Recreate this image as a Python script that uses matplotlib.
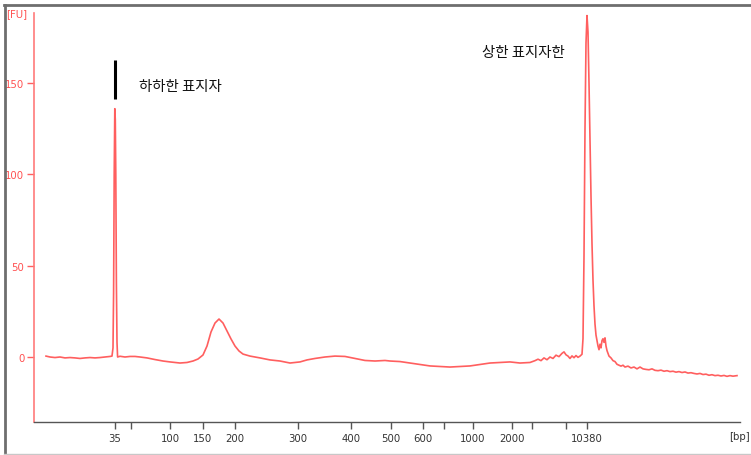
import matplotlib
matplotlib.use("Agg")
import matplotlib.pyplot as plt
from matplotlib.lines import Line2D

# Electropherogram trace: migration position vs fluorescence (FU)
pos = [46, 50, 55, 60, 65, 70, 75, 80, 85, 90, 95, 100, 105, 110, 112,
       113, 113.6, 114.2, 114.8, 115.3, 115.8, 116.4, 117.0, 117.6,
       120, 125, 130, 135, 140, 147, 155, 163, 170, 180, 187, 193, 198,
       203, 207, 211, 215, 219, 223, 227, 231, 235, 239, 243, 250, 260,
       270, 280, 290, 300, 307, 315, 325, 335, 345, 355, 365, 375, 385,
       390, 400, 410, 420, 430, 440, 450, 460, 470, 480, 490, 500, 510,
       520, 530, 535, 538, 541, 544, 547, 550, 553, 556, 559, 562, 564,
       566, 568, 570, 572, 574, 576, 578, 580, 582,
       583, 584, 585, 586, 587, 588, 589, 590, 591, 592, 593, 594, 595,
       596, 597, 598, 599, 600, 601, 602, 603, 604, 605, 606, 607, 608,
       609, 611, 613, 615, 617, 619, 621, 623, 625, 628, 631, 634, 637,
       640, 643, 646, 649, 652, 655, 658, 661, 664, 667, 670, 673, 676,
       679, 682, 685, 688, 691, 694, 697, 700, 703, 706, 709, 712, 715,
       718, 721, 724, 727, 730, 733, 737]
fu = [0.5, 0.0, -0.3, 0.0, -0.5, -0.3, -0.5, -0.8, -0.5, -0.3, -0.5, -0.3, 0.0, 0.3, 0.5,
      5, 35, 100, 136, 130, 100, 40, 8, 0,
      0.4, 0.0, 0.3, 0.3, 0.0, -0.5, -1.4, -2.2, -2.7, -3.3, -3.0, -2.2, -1.1,
      1.1, 6.0, 13.7, 18.6, 20.8, 18.6, 14.2, 9.9, 6.0, 3.3, 1.6, 0.5, -0.5,
      -1.6, -2.2, -3.3, -2.7, -1.6, -0.8, 0.0, 0.5, 0.3, -0.8, -1.9, -2.2, -1.9,
      -2.2, -2.5, -3.3, -4.1, -4.9, -5.2, -5.5, -5.2, -4.9, -4.1, -3.3, -3.0, -2.7,
      -3.3, -3.0, -2.0, -1.2, -2.0, -0.5, -1.5, 0.0, -0.8, 1.0, 0.2, 2.0, 2.8,
      1.2, 0.5, -0.8, 0.6, -0.4, 0.8, -0.2, 0.5, 1.5,
      10, 55, 125, 172, 187, 178, 150, 118, 88, 62, 42, 28, 18,
      12, 9, 6, 4, 7, 5, 9, 10, 8, 10.5, 6, 3.5, 2,
      0.5, -0.5, -2, -2.5, -4, -4.5, -5, -4.5, -5.5, -5, -6, -5.5, -6.5,
      -5.5, -6.5, -6.8, -7, -6.5, -7.3, -7.5, -7.2, -7.8, -7.5, -8, -7.8, -8.3,
      -8, -8.5, -8.2, -8.8, -8.6, -9, -9.3, -9, -9.6, -9.4, -10, -9.7, -10.2,
      -10, -10.4, -10.1, -10.6, -10.2, -10.5, -10.2]

# Size ladder ticks along the migration axis (blank = unlabeled tick)
tick_pos = [81, 97, 136, 169, 201, 264, 317, 357, 389, 410, 439, 478, 498, 532, 553]
tick_labels = ["35", "", "100", "150", "200", "300", "400", "500", "600", "",
               "1000", "2000", "", "", "10380"]
fu_ticks = [0, 50, 100, 150]

lower_marker_pos = 81
lower_label = "하하한 표지자"
upper_label = "상한 표지자한"

W, H = 751, 456
fig = plt.figure(figsize=(W / 100, H / 100), dpi=100)
fig.patch.set_facecolor("white")

# outer frame
fig.add_artist(Line2D([4.5 / W, 4.5 / W], [0, 1 - 6 / H], transform=fig.transFigure,
                      color="#6e6e6e", lw=2.0))
fig.add_artist(Line2D([4 / W, 1], [1 - 6 / H, 1 - 6 / H], transform=fig.transFigure,
                      color="#6e6e6e", lw=2.0))
fig.add_artist(Line2D([4 / W, 1], [1 / H, 1 / H], transform=fig.transFigure,
                      color="#c8c8c8", lw=1.0))

x0, x1 = 34, 740
y_top, y_bot = 14, 423
ax = fig.add_axes([x0 / W, 1 - y_bot / H, (x1 - x0) / W, (y_bot - y_top) / H])
ax.set_xlim(x0 - 34, x1 - 34)
ax.set_ylim(-35.6, 188.4)

ax.plot([p - 34 for p in pos], fu, color="#ff4d4d", lw=1.2, alpha=0.9)

for s in ("top", "right"):
    ax.spines[s].set_visible(False)
ax.spines["left"].set_color("#ff7a7a")
ax.spines["left"].set_linewidth(1.2)
ax.spines["bottom"].set_color("#555555")
ax.spines["bottom"].set_linewidth(1.0)

ax.set_xticks(tick_pos)
ax.set_xticklabels(tick_labels)
ax.tick_params(axis="x", direction="out", length=5, width=1, colors="#555555",
               labelsize=7.3, pad=3, labelcolor="#333333")
ax.set_yticks(fu_ticks)
ax.tick_params(axis="y", direction="out", length=5, width=1, colors="#ff6060",
               labelsize=7.3, pad=2, labelcolor="#ff5050")

fig.text(6 / W, 1 - 14 / H, "[FU]", color="#ff5050", fontsize=7.3, va="center", ha="left")
fig.text(750 / W, 1 - 437 / H, "[bp]", color="#333333", fontsize=7.3, va="center", ha="right")

# marker annotations
ax.plot([lower_marker_pos, lower_marker_pos], [141.5, 162.5], color="black", lw=2.2,
        solid_capstyle="butt")
ax.text(139 - 34, 148.4, lower_label, family=["Noto Sans CJK KR", "DejaVu Sans"],
        fontsize=10.4, va="center", ha="left", color="#111111")
ax.text(482 - 34, 167.0, upper_label, family=["Noto Sans CJK KR", "DejaVu Sans"],
        fontsize=10.4, va="center", ha="left", color="#111111")

fig.savefig("out.png", dpi=100, facecolor="white")
